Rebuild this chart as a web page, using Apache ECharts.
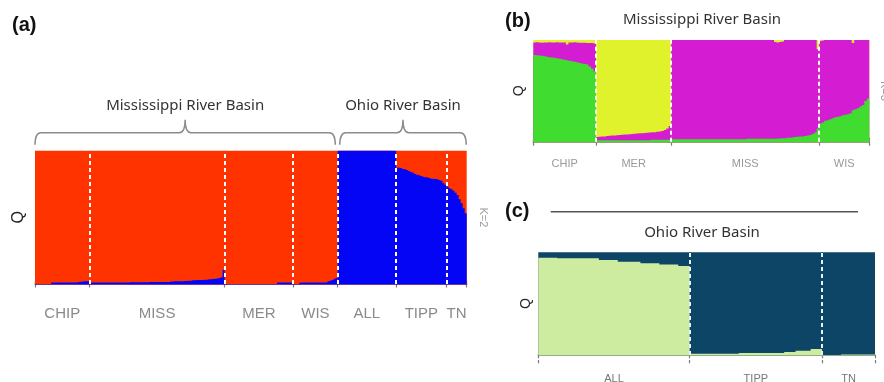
<!DOCTYPE html>
<html><head><meta charset="utf-8">
<script src="https://cdn.jsdelivr.net/npm/echarts@6/dist/echarts.min.js"></script>
<style>html,body{margin:0;padding:0;background:#fff}#c{width:884px;height:382px}</style>
</head><body><div id="c"></div>
<script>
// ---------- Panel (a): K=2, all populations ----------
const groupsA = ['CHIP','MISS','MER','WIS','ALL','TIPP','TN'];
const basinsA = ['Mississippi River Basin','Ohio River Basin'];
const basinSplitA = 4; // first Ohio group index
const aBlueCHIP = [0,0,0,0,0,0,0,0,0.012,0.012,0.012,0.012,0.012,0.012,0.012,0.012,0.012,0.012,0.012,0.012,0.012,0.014,0.016,0.016,0.02,0.02,0.02];
const aBlueMISS = [0.012,0.012,0.012,0.012,0.012,0.012,0.012,0.012,0.012,0.012,
 0.012,0.012,0.012,0.012,0.012,0.012,0.012,0.012,0.012,0.012,
 0.013,0.013,0.013,0.013,0.013,0.013,0.013,0.013,0.013,0.013,
 0.015,0.015,0.015,0.015,0.015,0.015,0.015,0.015,0.015,0.015,
 0.018,0.018,0.02,0.02,0.02,0.02,0.02,0.022,0.022,0.025,
 0.025,0.028,0.028,0.03,0.03,0.03,0.03,0.032,0.032,0.035,
 0.035,0.038,0.04,0.042,0.045,0.05,0.105];
const aBlueMER = [0,0,0,0,0,0,0,0,0,0,0,0,0,0,0,0,0,0,0,0,0,0,0,0,0,0,0.012,0.012,0.012,0.012,0.012,0.012,0.012,0.012];
const aBlueWIS = [0,0,0,0.01,0.012,0.012,0.012,0.012,0.012,0.012,0.012,0.012,0.012,0.012,0.012,0.012,0.012,0.02,0.025,0.03,0.04,0.045];
const aBlueALL = [1,1,1,1,1,1,1,1,1,1,1,1,1,1,1,1,1,1,1,1,1,1,1,1,1,1,1,1,1];
const aBlueTIPP = [0.873,0.873,0.87,0.862,0.86,0.855,0.848,0.84,0.835,0.825,0.82,0.815,0.81,0.805,0.80,0.80,0.795,0.79,0.79,0.788,0.785,0.78,0.775,0.755,0.745];
const aBlueTN = [0.73,0.718,0.71,0.70,0.685,0.668,0.635,0.605,0.568,0.53];

// ---------- Panel (b): Mississippi River Basin, K=3 ----------
const groupsB = ['CHIP','MER','MISS','WIS'];
const bGreenCHIP = [0.852,0.85,0.848,0.845,0.84,0.835,0.83,0.828,0.825,0.82,0.815,0.81,0.805,0.80,0.795,0.79,0.785,0.78,0.775,0.77,0.765,0.76,0.74,0.72,0.69];
const bYellowCHIP = [0.025,0.022,0.025,0.028,0.025,0.025,0.022,0.025,0.025,0.022,0.025,0.025,0.025,0.045,0.025,0.025,0.022,0.025,0.028,0.028,0.028,0.03,0.03,0.03,0.035];
const bGreenMER = [0.015,0.015,0.015,0.015,0.015,0.015,0.015,0.015,0.015,0.015,0.015,0.015,0.015,0.015,0.015,0.015,0.015,0.015,0.015,0.015,0.015,0.015,0.02,0.02,0.02,0.02,0.02,0.02,0.02,0.02];
const bYellowMER = [0.955,0.952,0.95,0.948,0.945,0.942,0.94,0.938,0.936,0.934,0.932,0.93,0.928,0.926,0.924,0.922,0.92,0.918,0.916,0.914,0.912,0.91,0.908,0.906,0.903,0.90,0.895,0.885,0.87,0.845];
const bGreenMISS = [0.023,0.023,0.023,0.023,0.023,0.023,0.023,0.023,0.023,0.023,
 0.023,0.023,0.023,0.023,0.023,0.023,0.023,0.023,0.023,0.023,
 0.025,0.025,0.025,0.025,0.025,0.025,0.025,0.025,0.025,0.025,
 0.028,0.028,0.028,0.028,0.028,0.028,0.028,0.028,0.028,0.028,
 0.03,0.03,0.032,0.032,0.035,0.035,0.038,0.04,
 0.042,0.045,0.048,0.05,0.052,0.055,0.06,0.066,0.075,0.09,0.13];
const bYellowMISS = [0,0,0,0,0,0,0,0,0,0,0,0,0,0,0,0,0,0,0,0,
 0,0,0,0,0,0,0,0,0,0,0,0,0,0,0,0,0,0,0,0,
 0,0.02,0.025,0.02,0.015,0,0,0,0,0,0,0,0,0,0,0,0,0,0.09];
const bGreenWIS = [0.18,0.19,0.205,0.21,0.22,0.23,0.24,0.245,0.25,0.26,0.265,0.27,0.28,0.31,0.32,0.33,0.345,0.36,0.40,0.425];
const bYellowWIS = [0.01,0.005,0,0,0,0,0,0,0,0,0,0,0,0.03,0,0,0,0,0,0];

// ---------- Panel (c): Ohio River Basin, K=2 ----------
const groupsC = ['ALL','TIPP','TN'];
const cLightALL = [0.948,0.948,0.948,0.948,0.948,0.942,0.942,0.942,0.942,0.942,0.942,0.942,0.942,0.942,0.942,0.942,
 0.925,0.925,0.925,0.925,0.925,0.909,0.909,0.909,0.909,0.909,0.909,0.893,0.893,0.893,0.893,0.893,
 0.88,0.88,0.88,0.88,0.88,0.867,0.867,0.867];
const cLightTIPP = [0.013,0.013,0.013,0.013,0.013,0.013,0.013,0.013,0.013,0.013,0.013,0.013,0.013,
 0.019,0.019,0.019,0.019,0.019,0.019,0.019,0.019,0.019,0.019,0.019,0.019,
 0.03,0.03,0.03,0.042,0.042,0.042,0.042,0.058,0.058,0.058];
const cLightTN = [0,0,0,0,0,0.006,0.006,0.006,0.006,0.006,0.006,0.006,0.006,0.006];

const colorsA = ['#0505f5','#ff3300'];
const colorsB = ['#40dc30','#d41cd2','#dff22c'];
const colorsC = ['#cdeca0','#0c4565'];

// comps: list of arrays per group (bottom to top); null = remainder to 1
function build(groupComps) {
  const groups = [], bounds = [0];
  let x = 0, K = 0;
  groupComps.forEach(comps => {
    K = comps.length;
    const n = comps.find(c => c).length;
    const cum = comps.map(() => []);
    for (let i = 0; i < n; i++) {
      let known = 0;
      comps.forEach(c => { if (c) known += c[i]; });
      let acc = 0;
      comps.forEach((c, k) => {
        const v = c ? c[i] : Math.max(0, 1 - known);
        acc += v;
        cum[k].push(Math.min(1, acc));
      });
    }
    groups.push({ x0: x, n: n, cum: cum });
    x += n;
    bounds.push(x);
  });
  const items = [];
  groups.forEach((g, gi) => { for (let L = K - 1; L >= 0; L--) items.push([gi, L]); });
  return { groups, bounds, total: x, items };
}
const A = build([[aBlueCHIP,null],[aBlueMISS,null],[aBlueMER,null],[aBlueWIS,null],[aBlueALL,null],[aBlueTIPP,null],[aBlueTN,null]]);
const B = build([[bGreenCHIP,null,bYellowCHIP],[bGreenMER,null,bYellowMER],[bGreenMISS,null,bYellowMISS],[bGreenWIS,null,bYellowWIS]]);
const C = build([[cLightALL,null],[cLightTIPP,null],[cLightTN,null]]);

function mids(b) { const m = []; for (let i = 0; i < b.length - 1; i++) m.push((b[i] + b[i+1]) / 2); return m; }

// one step-polygon per group and cumulative layer, drawn top layer first
function areaRenderer(D, colors) {
  return function (params, api) {
    const it = D.items[params.dataIndex];
    const g = D.groups[it[0]], L = it[1], cum = g.cum[L];
    const lastGroup = it[0] === D.groups.length - 1;
    const ext = lastGroup ? 0 : 0.8;
    const pts = [];
    const s = api.coord([g.x0, 0]);
    pts.push([s[0], s[1] + 0.5]);
    for (let i = 0; i < g.n; i++) {
      const a = api.coord([g.x0 + i, cum[i]]);
      const b = api.coord([g.x0 + i + 1, cum[i]]);
      if (i === g.n - 1) b[0] += ext;
      pts.push(a, b);
    }
    const e = api.coord([g.x0 + g.n, 0]);
    pts.push([e[0] + ext, e[1] + 0.5]);
    return { type: 'polygon', shape: { points: pts }, style: { fill: colors[L], stroke: null } };
  };
}

const axisColor = '#7a7a7a';
function xAxesFor(grid, D, names, off, fs, margin, lblColor, tick) {
  const m = mids(D.bounds);
  return [
    { gridIndex: grid, type: 'value', min: 0, max: D.total, position: 'bottom', offset: off,
      axisLine: { show: true, lineStyle: { color: axisColor, width: 1.5 } },
      axisTick: { show: true, customValues: D.bounds, length: tick, lineStyle: { color: axisColor, width: 1.2 } },
      axisLabel: { show: true, customValues: m, margin: margin, color: lblColor, fontSize: fs, fontFamily: 'Liberation Sans',
        formatter: v => { const i = m.findIndex(q => Math.abs(q - v) < 1e-6); return i >= 0 ? names[i] : ''; } },
      splitLine: { show: false } },
    { gridIndex: grid, type: 'value', min: 0, max: D.total, position: 'bottom', offset: off,
      axisLine: { show: false },
      axisTick: { show: true, inside: true, customValues: D.bounds, length: tick, lineStyle: { color: axisColor, width: 1.2 } },
      axisLabel: { show: false }, splitLine: { show: false } }
  ];
}
function yLeft(grid, gap, fs) {
  return { gridIndex: grid, type: 'value', min: 0, max: 1, position: 'left',
    axisLine: { show: false }, axisTick: { show: false }, axisLabel: { show: false }, splitLine: { show: false },
    name: 'Q', nameLocation: 'middle', nameGap: gap, nameTextStyle: { fontSize: fs, color: '#222', fontFamily: 'Liberation Sans' } };
}
function yRight(grid, name, gap) {
  return { gridIndex: grid, type: 'value', min: 0, max: 1, position: 'right',
    axisLine: { show: false }, axisTick: { show: false }, axisLabel: { show: false }, splitLine: { show: false },
    name: name, nameLocation: 'middle', nameRotate: -90, nameGap: gap,
    nameTextStyle: { fontSize: 11, color: '#9a9a9a', fontFamily: 'Liberation Sans' } };
}
function sepLine(D, color) {
  return { silent: true, symbol: ['none','none'], label: { show: false },
    lineStyle: { color: color, width: 2, type: [4, 3], opacity: 1 },
    emphasis: { disabled: true },
    data: D.bounds.slice(1, -1).map(b => ({ xAxis: b })) };
}

const chart = echarts.init(document.getElementById('c'), null, { renderer: 'canvas' });
chart.setOption({
  animation: false,
  backgroundColor: '#ffffff',
  grid: [
    { left: 35, top: 150.7, width: 431.7, height: 133.3, outerBoundsMode: 'none', containLabel: false },
    { left: 533.3, top: 40, width: 336, height: 101.7, outerBoundsMode: 'none', containLabel: false },
    { left: 538.3, top: 252.3, width: 336.7, height: 102.7, outerBoundsMode: 'none', containLabel: false }
  ],
  xAxis: [].concat(
    xAxesFor(0, A, groupsA, 11, 15, 11, '#8a8a8a', 3.5),
    xAxesFor(1, B, groupsB, 10, 11, 7, '#999999', 4),
    xAxesFor(2, C, groupsC, 8.3, 11, 10, '#777777', 3.3)
  ),
  yAxis: [ yLeft(0, 8, 16), yRight(0, 'K=2', 11), yLeft(1, 7, 14), yRight(1, 'K=3', 9), yLeft(2, 5, 14) ],
  series: [
    { type: 'custom', xAxisIndex: 0, yAxisIndex: 0, data: A.items, renderItem: areaRenderer(A, colorsA), silent: true,
      markLine: sepLine(A, '#ffffff') },
    { type: 'custom', xAxisIndex: 2, yAxisIndex: 2, data: B.items, renderItem: areaRenderer(B, colorsB), silent: true,
      markLine: sepLine(B, '#ffffff') },
    { type: 'custom', xAxisIndex: 4, yAxisIndex: 4, data: C.items, renderItem: areaRenderer(C, colorsC), silent: true,
      markLine: sepLine(C, '#e6f2f7') },
    { type: 'custom', xAxisIndex: 0, yAxisIndex: 0, clip: false, silent: true,
      data: [[A.bounds[0], A.bounds[basinSplitA]], [A.bounds[basinSplitA], A.total]],
      renderItem: function (params, api) {
        const i = params.dataIndex;
        const s = api.coord([api.value(0), 1]);
        const e = api.coord([api.value(1), 1]);
        const xs = s[0] + (i ? 2.2 : 0), xe = e[0] - (i ? 0.5 : 2.3);
        const top = s[1];
        const yb = top - 6, yh = top - 18, yt = top - 31, xm = (xs + xe) / 2, r = 6;
        const d = `M${xs},${yb} Q${xs},${yh} ${xs + r},${yh} L${xm - r},${yh} Q${xm},${yh} ${xm},${yt} ` +
                  `M${xm},${yt} Q${xm},${yh} ${xm + r},${yh} L${xe - r},${yh} Q${xe},${yh} ${xe},${yb}`;
        return { type: 'group', children: [
          { type: 'path', shape: { pathData: d }, style: { stroke: '#8c8c8c', lineWidth: 1.5, fill: null } },
          { type: 'text', x: xm, y: top - 45, style: { text: basinsA[i], fill: '#333', font: '15px "Noto Sans"', align: 'center', verticalAlign: 'middle' } }
        ] };
      } }
  ],
  graphic: [
    { type: 'text', left: 12, top: 15, style: { text: '(a)', fill: '#111', font: 'bold 20px "Liberation Sans"' } },
    { type: 'text', left: 505, top: 11, style: { text: '(b)', fill: '#111', font: 'bold 20px "Liberation Sans"' } },
    { type: 'text', left: 505, top: 201, style: { text: '(c)', fill: '#111', font: 'bold 20px "Liberation Sans"' } },
    { type: 'text', x: 702, y: 20, style: { text: 'Mississippi River Basin', fill: '#333', font: '15px "Noto Sans"', align: 'center', verticalAlign: 'middle' } },
    { type: 'text', x: 702, y: 233, style: { text: 'Ohio River Basin', fill: '#333', font: '15px "Noto Sans"', align: 'center', verticalAlign: 'middle' } },
    { type: 'line', shape: { x1: 550.7, y1: 211.7, x2: 858, y2: 211.7 }, style: { stroke: '#555', lineWidth: 1.5 } }
  ]
});
</script></body></html>
